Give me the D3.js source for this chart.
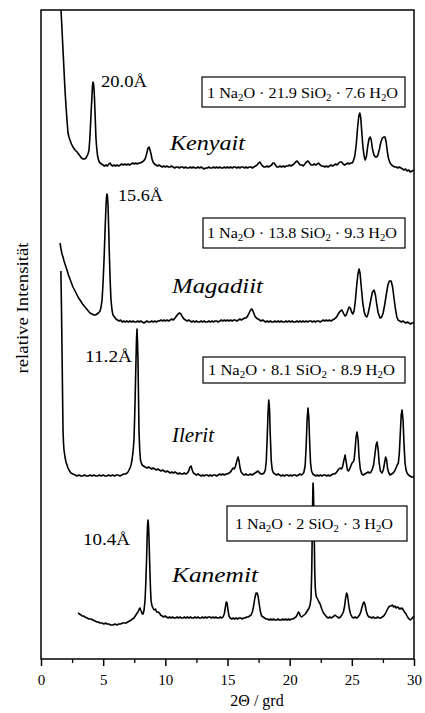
<!DOCTYPE html>
<html>
<head>
<meta charset="utf-8">
<script src="https://cdn.jsdelivr.net/npm/d3@7"></script>
<style>
body { margin:0; background:#fff; }
svg { display:block; font-family:"Liberation Serif","Times New Roman",serif; }
</style>
</head>
<body>
<svg id="chart" width="425" height="713"></svg>
<script>
// phases, top to bottom
var names = ["Kenyait","Magadiit","Ilerit","Kanemit"];
var spacings = ["20.0Å","15.6Å","11.2Å","10.4Å"];
var formulas = ["1 Na₂O · 21.9 SiO₂ · 7.6 H₂O","1 Na₂O · 13.8 SiO₂ · 9.3 H₂O","1 Na₂O · 8.1 SiO₂ · 8.9 H₂O","1 Na₂O · 2 SiO₂ · 3 H₂O"];
// vertical shift of each pattern (relative intensity units)
var offsets = [493,338,184,41];
var xTicks = [0,5,10,15,20,25,30];
var xMinor = [2.5,7.5,12.5,17.5,22.5,27.5];

// [2theta, intensity]
var kenyait = [[1.58,170],[1.61,156],[1.69,136],[1.77,116],[1.85,96],[1.93,76],[2.01,60],[2.09,46],[2.17,33],[2.25,29],[2.33,26],[2.45,22],[2.57,19],[2.74,16],[2.90,14],[3.02,12],[3.14,10],[3.26,8],[3.38,7],[3.50,7],[3.62,8],[3.70,10],[3.78,12],[3.86,16],[3.92,26],[3.98,40],[4.04,56],[4.10,70],[4.14,80],[4.18,84],[4.22,83],[4.26,78],[4.30,68],[4.34,55],[4.38,42],[4.42,28],[4.48,18],[4.55,10],[4.65,5],[4.75,3],[4.87,2],[4.99,1],[5.10,0],[5.22,1],[5.34,0],[5.45,2],[5.55,3],[5.65,1],[5.76,0],[5.88,1],[6.00,0],[6.12,1],[6.25,0],[6.38,1],[6.50,2],[6.62,1],[6.75,2],[6.88,1],[7.00,2],[7.12,1],[7.25,2],[7.38,3],[7.50,2],[7.62,3],[7.75,2],[7.88,3],[8.00,3],[8.12,4],[8.25,5],[8.37,7],[8.45,10],[8.53,14],[8.61,18],[8.69,19],[8.77,16],[8.85,12],[8.93,7],[9.01,4],[9.12,2],[9.25,1],[9.38,0],[9.50,1],[9.62,0],[9.75,-1],[9.88,0],[10.00,-1],[10.12,0],[10.25,-1],[10.38,-1],[10.50,0],[10.62,-1],[10.75,-2],[10.88,-1],[11.00,-1],[11.12,-2],[11.25,-1],[11.38,-1],[11.50,-2],[11.62,-1],[11.75,-2],[11.88,-2],[12.00,-1],[12.12,-2],[12.25,-1],[12.38,-2],[12.50,-2],[12.62,-1],[12.75,-2],[12.88,-1],[13.00,-2],[13.12,-3],[13.25,-2],[13.38,-2],[13.50,-1],[13.62,-2],[13.75,-2],[13.88,-1],[14.00,-2],[14.12,-1],[14.25,-2],[14.38,-1],[14.50,-2],[14.62,-2],[14.75,-1],[14.88,-2],[15.00,-1],[15.12,-2],[15.25,-1],[15.38,-2],[15.50,-1],[15.62,-1],[15.75,-2],[15.88,-1],[16.00,-2],[16.12,-1],[16.25,-1],[16.38,-2],[16.50,-1],[16.62,-2],[16.75,-1],[16.88,-1],[17.00,-2],[17.12,-1],[17.25,0],[17.38,1],[17.50,3],[17.60,4],[17.70,2],[17.82,0],[17.94,-1],[18.06,-1],[18.18,0],[18.30,-1],[18.42,0],[18.55,1],[18.65,3],[18.75,3],[18.85,1],[18.97,-1],[19.10,-1],[19.22,0],[19.35,-1],[19.48,0],[19.60,-1],[19.72,0],[19.85,0],[19.98,1],[20.10,0],[20.22,1],[20.35,2],[20.48,4],[20.60,5],[20.72,3],[20.85,1],[20.98,1],[21.10,0],[21.22,2],[21.35,4],[21.48,5],[21.60,3],[21.72,1],[21.85,1],[21.98,2],[22.10,1],[22.22,2],[22.32,3],[22.45,1],[22.58,0],[22.70,0],[22.82,-1],[22.95,0],[23.08,-1],[23.20,0],[23.32,1],[23.45,0],[23.58,1],[23.70,2],[23.82,1],[23.95,3],[24.05,4],[24.18,4],[24.30,2],[24.42,1],[24.55,2],[24.68,3],[24.80,2],[24.92,3],[25.02,3],[25.12,5],[25.24,10],[25.36,22],[25.46,38],[25.56,50],[25.64,53],[25.72,48],[25.80,34],[25.90,18],[26.00,9],[26.08,6],[26.18,10],[26.28,20],[26.38,27],[26.47,29],[26.56,26],[26.66,17],[26.78,11],[26.90,9],[27.00,9],[27.10,11],[27.22,17],[27.34,24],[27.46,28],[27.56,29],[27.67,29],[27.76,24],[27.86,14],[27.96,7],[28.08,3],[28.20,1],[28.32,0],[28.45,-1],[28.58,-1],[28.70,-2],[28.82,-1],[28.95,-2],[29.08,-3],[29.20,-4],[29.32,-3],[29.45,-5],[29.58,-4],[29.70,-6],[29.85,-5],[30.0,-4]];

var magadiit = [[1.53,78],[1.61,72],[1.69,67],[1.77,64],[1.85,60],[1.93,57],[2.01,54],[2.09,51],[2.21,46],[2.33,42],[2.45,38],[2.57,34],[2.74,30],[2.90,26],[3.02,23],[3.14,21],[3.34,17],[3.54,14],[3.74,11],[3.94,8],[4.10,7],[4.26,6],[4.38,6],[4.50,7],[4.62,8],[4.75,10],[4.83,14],[4.91,21],[4.99,38],[5.07,61],[5.15,90],[5.23,116],[5.27,124],[5.31,127],[5.35,124],[5.39,116],[5.45,90],[5.51,61],[5.57,38],[5.63,21],[5.71,11],[5.79,6],[5.91,4],[6.03,2],[6.15,1],[6.28,0],[6.40,1],[6.52,-1],[6.65,0],[6.78,-1],[6.90,0],[7.02,-1],[7.15,0],[7.28,-1],[7.40,0],[7.52,-1],[7.65,-1],[7.78,0],[7.90,-1],[8.02,0],[8.15,-1],[8.28,-2],[8.40,-1],[8.52,0],[8.65,-1],[8.78,-1],[8.90,0],[9.02,-1],[9.15,0],[9.28,-1],[9.40,0],[9.52,0],[9.65,1],[9.78,0],[9.90,1],[10.02,0],[10.15,1],[10.28,0],[10.40,1],[10.52,2],[10.65,1],[10.78,3],[10.90,5],[11.02,7],[11.14,8],[11.26,7],[11.38,4],[11.50,2],[11.62,1],[11.75,0],[11.88,1],[12.00,0],[12.12,-1],[12.25,0],[12.38,-1],[12.50,0],[12.62,-1],[12.75,-1],[12.88,0],[13.00,-1],[13.12,0],[13.25,-1],[13.38,-1],[13.50,0],[13.62,-1],[13.75,0],[13.88,-1],[14.00,0],[14.12,0],[14.25,-1],[14.38,0],[14.50,1],[14.62,0],[14.75,1],[14.88,0],[15.00,1],[15.12,0],[15.25,1],[15.38,0],[15.50,1],[15.62,1],[15.75,0],[15.88,1],[16.00,2],[16.12,1],[16.25,2],[16.38,3],[16.50,3],[16.62,5],[16.74,8],[16.86,11],[16.97,12],[17.08,9],[17.20,5],[17.32,3],[17.45,2],[17.58,1],[17.70,0],[17.82,1],[17.95,0],[18.08,-1],[18.20,0],[18.32,-1],[18.45,0],[18.58,-1],[18.70,-1],[18.82,0],[18.95,-1],[19.08,0],[19.20,-1],[19.32,0],[19.45,-1],[19.58,-1],[19.70,0],[19.82,-1],[19.95,0],[20.08,-1],[20.20,0],[20.32,-1],[20.45,-1],[20.58,0],[20.70,-1],[20.82,0],[20.95,-1],[21.08,0],[21.20,-1],[21.32,0],[21.45,-1],[21.58,0],[21.70,0],[21.82,-1],[21.95,0],[22.08,-1],[22.20,0],[22.32,0],[22.45,-1],[22.58,0],[22.70,1],[22.82,0],[22.95,1],[23.08,0],[23.20,1],[23.32,0],[23.45,1],[23.58,2],[23.70,3],[23.82,5],[23.95,8],[24.08,10],[24.20,11],[24.32,8],[24.44,5],[24.55,6],[24.66,10],[24.78,14],[24.88,13],[24.98,9],[25.08,7],[25.18,10],[25.28,20],[25.38,34],[25.48,46],[25.58,52],[25.66,48],[25.76,34],[25.88,18],[26.00,9],[26.10,5],[26.20,4],[26.30,7],[26.42,14],[26.54,22],[26.66,29],[26.79,31],[26.90,26],[27.00,17],[27.12,8],[27.27,3],[27.40,4],[27.52,8],[27.64,16],[27.78,27],[27.90,36],[28.02,40],[28.16,40],[28.28,34],[28.40,22],[28.52,11],[28.62,4],[28.72,1],[28.85,0],[28.98,-1],[29.10,0],[29.22,-1],[29.35,-2],[29.48,-1],[29.60,-2],[29.72,-3],[29.85,-2],[30.0,-2]];

var ilerit = [[1.60,204],[1.65,165],[1.69,125],[1.73,85],[1.77,45],[1.81,32],[1.85,25],[1.93,18],[2.01,13],[2.09,10],[2.17,7],[2.29,4],[2.41,2],[2.57,1],[2.74,0],[2.90,-1],[3.05,0],[3.20,-1],[3.35,-1],[3.50,0],[3.65,-1],[3.80,-1],[3.95,0],[4.10,-1],[4.25,0],[4.40,-1],[4.55,-1],[4.70,0],[4.85,-1],[5.00,0],[5.15,-1],[5.30,-1],[5.45,0],[5.60,-1],[5.75,0],[5.90,-1],[6.05,0],[6.20,0],[6.35,-1],[6.50,0],[6.65,1],[6.80,1],[6.92,2],[7.00,3],[7.08,5],[7.16,7],[7.24,10],[7.32,15],[7.40,23],[7.48,35],[7.56,70],[7.64,115],[7.68,135],[7.72,146],[7.76,135],[7.80,115],[7.84,80],[7.88,45],[7.94,25],[8.00,15],[8.07,12],[8.13,10],[8.25,9],[8.37,8],[8.53,7],[8.65,8],[8.78,7],[8.90,6],[9.02,7],[9.15,6],[9.28,5],[9.40,6],[9.52,5],[9.65,4],[9.78,5],[9.90,4],[10.02,3],[10.15,4],[10.28,3],[10.40,2],[10.52,3],[10.65,2],[10.78,3],[10.90,2],[11.02,1],[11.15,2],[11.28,1],[11.40,1],[11.52,2],[11.65,1],[11.78,2],[11.88,4],[11.98,8],[12.07,9],[12.16,5],[12.26,2],[12.38,1],[12.50,0],[12.62,1],[12.75,0],[12.88,-1],[13.00,0],[13.12,-1],[13.25,0],[13.38,0],[13.50,-1],[13.62,0],[13.75,-1],[13.88,0],[14.00,0],[14.12,-1],[14.25,0],[14.38,1],[14.50,0],[14.62,1],[14.75,0],[14.88,1],[15.00,1],[15.12,2],[15.24,3],[15.34,5],[15.45,7],[15.55,6],[15.65,9],[15.75,14],[15.85,18],[15.93,14],[16.01,7],[16.10,3],[16.22,1],[16.35,0],[16.48,1],[16.60,0],[16.72,0],[16.85,1],[16.98,0],[17.10,1],[17.22,2],[17.34,3],[17.46,4],[17.58,2],[17.70,1],[17.82,1],[17.94,2],[18.04,5],[18.12,14],[18.20,40],[18.26,62],[18.32,75],[18.38,66],[18.44,40],[18.52,14],[18.60,5],[18.70,2],[18.82,1],[18.95,0],[19.08,1],[19.20,0],[19.32,-1],[19.45,0],[19.58,-1],[19.70,0],[19.82,0],[19.95,-1],[20.08,0],[20.20,-1],[20.32,0],[20.45,0],[20.58,-1],[20.70,0],[20.82,1],[20.95,0],[21.05,1],[21.15,3],[21.25,10],[21.33,30],[21.40,55],[21.47,67],[21.54,58],[21.61,32],[21.68,12],[21.76,4],[21.86,1],[21.98,0],[22.10,-1],[22.22,0],[22.35,-1],[22.48,0],[22.60,-1],[22.72,0],[22.85,0],[22.98,-1],[23.10,0],[23.22,-1],[23.35,0],[23.48,1],[23.60,1],[23.72,2],[23.84,4],[23.95,6],[24.05,7],[24.15,6],[24.25,8],[24.35,14],[24.46,20],[24.56,12],[24.64,5],[24.72,4],[24.82,6],[24.92,9],[25.02,12],[25.10,13],[25.18,15],[25.26,25],[25.34,38],[25.42,43],[25.50,36],[25.58,18],[25.68,6],[25.80,1],[25.92,0],[26.05,1],[26.18,2],[26.31,3],[26.42,2],[26.55,3],[26.65,6],[26.75,10],[26.85,20],[26.95,30],[27.03,33],[27.11,26],[27.20,12],[27.30,4],[27.43,2],[27.53,5],[27.63,12],[27.72,18],[27.80,15],[27.88,6],[27.98,2],[28.08,0],[28.20,1],[28.32,2],[28.44,4],[28.55,7],[28.65,10],[28.74,12],[28.82,22],[28.90,42],[28.97,60],[29.04,65],[29.12,55],[29.20,30],[29.28,12],[29.36,5],[29.44,2],[29.56,0],[29.68,-1],[29.80,-2],[29.93,-2],[30.0,-1]];

var kanemit = [[2.98,5],[3.10,4],[3.22,3],[3.30,2],[3.42,2],[3.54,1],[3.70,0],[3.86,-1],[4.02,-1],[4.18,-2],[4.34,-3],[4.50,-4],[4.62,-4],[4.75,-5],[4.90,-5],[5.05,-6],[5.20,-5],[5.31,-6],[5.45,-6],[5.60,-7],[5.79,-7],[5.95,-6],[6.10,-7],[6.25,-6],[6.40,-6],[6.55,-5],[6.70,-5],[6.85,-5],[6.98,-4],[7.12,-3],[7.25,-2],[7.36,-1],[7.48,0],[7.58,2],[7.68,4],[7.80,6],[7.90,9],[7.96,10],[8.02,8],[8.09,6],[8.15,4],[8.21,4],[8.29,8],[8.37,18],[8.43,35],[8.49,58],[8.53,78],[8.57,93],[8.61,98],[8.65,92],[8.69,78],[8.73,60],[8.77,43],[8.81,28],[8.85,18],[8.91,13],[8.97,11],[9.05,9],[9.13,8],[9.21,9],[9.30,6],[9.41,6],[9.52,5],[9.62,3],[9.74,2],[9.86,1],[9.98,2],[10.10,1],[10.22,0],[10.34,1],[10.46,0],[10.58,1],[10.70,0],[10.82,0],[10.94,1],[11.06,0],[11.18,1],[11.30,0],[11.42,0],[11.54,1],[11.66,0],[11.78,1],[11.90,0],[12.02,1],[12.14,0],[12.26,0],[12.38,1],[12.50,0],[12.62,1],[12.74,0],[12.86,0],[12.98,1],[13.10,0],[13.22,1],[13.34,0],[13.46,1],[13.58,1],[13.70,0],[13.82,1],[13.94,0],[14.06,1],[14.18,0],[14.30,0],[14.42,1],[14.54,0],[14.64,1],[14.74,4],[14.82,10],[14.90,16],[14.97,15],[15.04,8],[15.12,2],[15.22,0],[15.34,-1],[15.46,0],[15.58,-1],[15.70,0],[15.82,-1],[15.94,0],[16.06,0],[16.18,-1],[16.30,0],[16.42,0],[16.54,1],[16.66,1],[16.78,2],[16.90,3],[17.00,6],[17.10,12],[17.20,20],[17.30,25],[17.38,25],[17.46,22],[17.55,14],[17.65,6],[17.75,2],[17.87,1],[17.98,0],[18.10,-1],[18.22,-1],[18.34,-2],[18.46,-1],[18.58,-2],[18.70,-1],[18.82,-2],[18.94,-2],[19.06,-1],[19.18,-2],[19.30,-2],[19.42,-1],[19.54,-2],[19.66,-1],[19.78,-2],[19.90,-1],[20.02,-2],[20.14,-1],[20.26,-1],[20.38,0],[20.50,1],[20.60,3],[20.70,6],[20.78,5],[20.86,2],[20.96,1],[21.06,2],[21.16,3],[21.26,4],[21.36,6],[21.46,8],[21.56,10],[21.64,13],[21.72,20],[21.78,50],[21.82,90],[21.86,125],[21.88,135],[21.91,128],[21.94,110],[21.98,80],[22.02,45],[22.06,30],[22.12,22],[22.20,20],[22.28,18],[22.36,16],[22.45,14],[22.53,11],[22.61,8],[22.72,5],[22.85,3],[22.98,1],[23.10,0],[23.22,1],[23.34,0],[23.46,1],[23.58,2],[23.66,3],[23.74,2],[23.84,1],[23.96,0],[24.08,1],[24.20,3],[24.32,6],[24.42,12],[24.50,20],[24.58,25],[24.65,23],[24.72,16],[24.80,9],[24.90,4],[25.02,1],[25.14,0],[25.26,1],[25.38,0],[25.50,1],[25.62,3],[25.72,6],[25.82,11],[25.92,15],[25.99,16],[26.07,13],[26.16,7],[26.26,3],[26.37,1],[26.47,1],[26.60,0],[26.72,1],[26.84,0],[26.96,0],[27.08,1],[27.20,0],[27.32,0],[27.44,1],[27.56,2],[27.68,4],[27.80,7],[27.92,10],[28.04,12],[28.16,12],[28.26,13],[28.36,11],[28.46,12],[28.56,10],[28.64,11],[28.72,11],[28.80,9],[28.88,10],[28.96,9],[29.04,10],[29.14,8],[29.24,6],[29.36,4],[29.48,1],[29.60,-1],[29.70,-2],[29.80,-1],[29.93,1],[30.0,2]];

var patterns = [kenyait, magadiit, ilerit, kanemit];

var svg = d3.select("#chart");
var x = d3.scaleLinear().domain([0,30]).range([41,414]);
var y = d3.scaleLinear().domain([0,649]).range([659,10]);

svg.append("clipPath").attr("id","plotclip")
  .append("rect")
  .attr("x",x(0)).attr("y",y(649))
  .attr("width",x(30)-x(0)).attr("height",y(0)-y(649));

var plot = svg.append("g").attr("clip-path","url(#plotclip)");

patterns.forEach(function(p,i) {
  var line = d3.line()
    .x(function(d) {return x(d[0]);})
    .y(function(d) {return y(d[1]+offsets[i]);});
  plot.append("path")
    .datum(p)
    .attr("d",line)
    .attr("fill","none")
    .attr("stroke","#000")
    .attr("stroke-width",1.6)
    .attr("stroke-linejoin","round");
});

// label placement (px): d-spacing, name, formula box
var dPos = [[101,87],[118,201],[85,362],[83,545]];
var dLen = [46,45,47,47];
var namePos = [[170,150],[172,293],[172,442],[172,582]];
var nameLen = [75,91,42,86];
var boxPos = [[202,77,203,30],[203,218,202,30],[203,357,202,26],[227,506,180,35]];
var boxText = [[207,98,191],[207,238,190],[208,375,187],[235,529,158]];

svg.selectAll(".dlab").data(spacings).enter()
  .append("text")
  .attr("x",function(d,i) {return dPos[i][0];})
  .attr("y",function(d,i) {return dPos[i][1];})
  .attr("textLength",function(d,i) {return dLen[i];})
  .attr("lengthAdjust","spacingAndGlyphs")
  .style("font-size","16px")
  .text(function(d) {return d;});

svg.selectAll(".name").data(names).enter()
  .append("text")
  .attr("x",function(d,i) {return namePos[i][0];})
  .attr("y",function(d,i) {return namePos[i][1];})
  .attr("textLength",function(d,i) {return nameLen[i];})
  .attr("lengthAdjust","spacingAndGlyphs")
  .style("font-size","22px")
  .style("font-style","italic")
  .text(function(d) {return d;});

formulas.forEach(function(f,i) {
  var b = boxPos[i];
  svg.append("rect")
    .attr("x",b[0]).attr("y",b[1])
    .attr("width",b[2]).attr("height",b[3])
    .attr("fill","#fff")
    .attr("stroke","#000")
    .attr("stroke-width",1.2);
  var t = svg.append("text")
    .attr("x",boxText[i][0])
    .attr("y",boxText[i][1])
    .attr("textLength",boxText[i][2])
    .attr("lengthAdjust","spacingAndGlyphs")
    .style("font-size","15px");
  // subscript 2s
  var parts = f.split("₂");
  parts.forEach(function(s,j) {
    t.append("tspan").attr("dy", j > 0 ? -3 : null).text(s);
    if (j < parts.length-1) {
      t.append("tspan").attr("dy",3).style("font-size","10px").text("2");
    }
  });
});

// frame
svg.append("rect")
  .attr("x",x(0)).attr("y",y(649))
  .attr("width",x(30)-x(0)).attr("height",y(0)-y(649))
  .attr("fill","none")
  .attr("stroke","#000")
  .attr("stroke-width",1.5);

var ax = svg.append("g")
  .attr("transform","translate(0,"+y(0)+")")
  .call(d3.axisBottom(x).tickValues(xTicks).tickSize(7).tickPadding(8).tickFormat(d3.format("d")));
ax.select(".domain").remove();
ax.selectAll("line").attr("stroke-width",1.5);
ax.selectAll("text").style("font-size","15px").style("font-family","'Liberation Serif',serif");

var axm = svg.append("g")
  .attr("transform","translate(0,"+y(0)+")")
  .call(d3.axisBottom(x).tickValues(xMinor).tickSize(4).tickFormat(""));
axm.select(".domain").remove();
axm.selectAll("line").attr("stroke-width",1.3);

svg.append("text")
  .attr("x",257).attr("y",706)
  .attr("text-anchor","middle")
  .style("font-size","16px")
  .text("2Θ / grd");

svg.append("text")
  .attr("transform","translate(28,308) rotate(-90)")
  .attr("text-anchor","middle")
  .attr("textLength",131)
  .attr("lengthAdjust","spacingAndGlyphs")
  .style("font-size","17px")
  .text("relative Intensität");
</script>
</body>
</html>
